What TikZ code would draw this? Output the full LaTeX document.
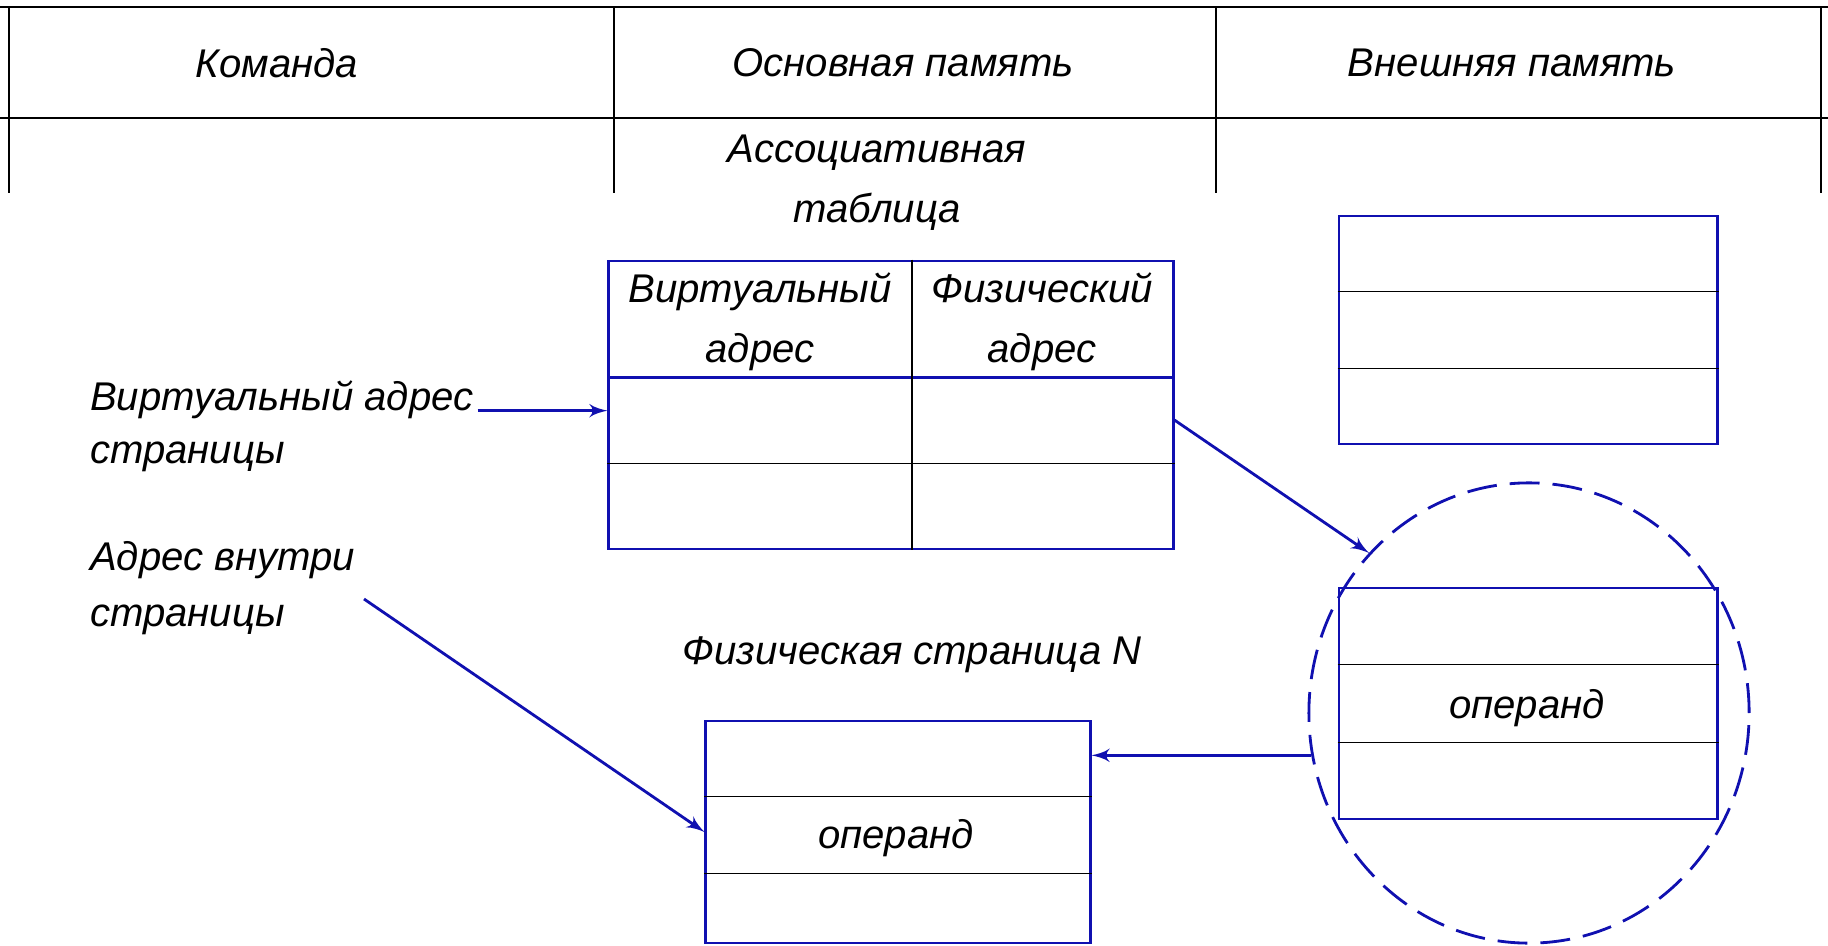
\documentclass[tikz,border=0pt]{standalone}
\usepackage{fontspec}
\setmainfont{Liberation Sans}
\usepackage{tikz}
\usetikzlibrary{shapes.geometric, arrows, positioning, calc}
\definecolor{drawblue}{RGB}{16,16,176}
\tikzstyle{caption} =
[font=\itshape\fontsize{11.4}{17}\selectfont, inner sep=1pt, align=center]
\tikzstyle{headline} = [draw=black, line width=0.6pt]
\tikzstyle{rowline} = [draw=black, line width=0.4pt]
\tikzstyle{splitline} = [draw=drawblue, line width=0.8pt]
\tikzstyle{memory} =
[rectangle, draw=drawblue, line width=0.8pt, inner sep=0pt]
\tikzstyle{zone} =
[ellipse, draw=drawblue, line width=0.8pt, dash pattern=on 8.5pt off 3.7pt,
minimum width=4.4cm, minimum height=4.6cm, inner sep=0pt]
\tikzstyle{line} = [draw=drawblue, line width=0.8pt, -latex']

\begin{document}
\begin{tikzpicture}[x=0.01cm, y=-0.01cm]
  \useasboundingbox (0,0) rectangle (1828,946);
  % header grid
  \draw [headline] (0,7) -- (1828,7);
  \draw [headline] (0,118) -- (1828,118);
  \foreach \x in {9,614,1216,1821}
    \draw [headline] (\x,7) -- (\x,193);
  % header nodes
  \node [caption] (cmd) at (277,63) {Команда};
  \node [caption] (mainmem) at (903,63) {Основная память};
  \node [caption] (extmem) at (1512,63) {Внешняя память};
  \node [caption] (assoctitle) at (877,183) {Ассоциативная\\таблица};
  %
  % memory nodes
  \node [memory, minimum width=5.64cm, minimum height=2.88cm] (assoc) at (891,405) {};
  \node [memory, minimum width=3.78cm, minimum height=2.28cm] (ext) at (1528,330) {};
  \node [zone] (zone) at (1529,713) {};
  \node [memory, minimum width=3.78cm, minimum height=2.31cm] (frame) at (1528,703.5) {};
  \node [memory, minimum width=3.84cm, minimum height=2.22cm] (page) at (898,832) {};
  \node [caption] (pagetitle) at (912,655) {Физическая страница N};
  % table lines
  \draw [splitline] ($(assoc.north west)!0.406!(assoc.south west)$)
    -- ($(assoc.north east)!0.406!(assoc.south east)$);
  \draw [rowline] ($(assoc.north west)!0.701!(assoc.south west)$)
    -- ($(assoc.north east)!0.701!(assoc.south east)$);
  \draw [rowline] ($(assoc.north west)!0.537!(assoc.north east)$)
    -- ($(assoc.south west)!0.537!(assoc.south east)$);
  \foreach \mem in {ext,frame}
    \foreach \f in {0.333,0.667}
      \draw [rowline] ($(\mem.north west)!\f!(\mem.south west)$)
        -- ($(\mem.north east)!\f!(\mem.south east)$);
  \foreach \f in {0.342,0.685}
    \draw [rowline] ($(page.north west)!\f!(page.south west)$)
      -- ($(page.north east)!\f!(page.south east)$);
  % cell texts
  \node [caption] (vcol) at (760,322) {Виртуальный\\адрес};
  \node [caption] (pcol) at (1042,322) {Физический\\адрес};
  \node [caption] (frameop) at (1527,708) {операнд};
  \node [caption] (pageop) at (896,838) {операнд};
  %
  % address nodes
  \node [caption, anchor=west] (vaddr) at (86,400) {Виртуальный адрес};
  \node [caption, anchor=west] (vpage) at (86,457) {страницы};
  \node [caption, anchor=west] (iaddr) at (86,560) {Адрес внутри};
  \node [caption, anchor=west] (ipage) at (86,620) {страницы};
  \coordinate (inaddr) at (364,599);
  % edges
  \path [line] (vaddr.base east) -- (assoc.west |- vaddr.base east);
  \path [line] ($(assoc.north east)!0.552!(assoc.south east)$) -- (zone.135);
  \path [line] (zone.191) -- (page.east |- zone.191);
  \path [line] (inaddr) -- (page.west);
\end{tikzpicture}
\end{document}
